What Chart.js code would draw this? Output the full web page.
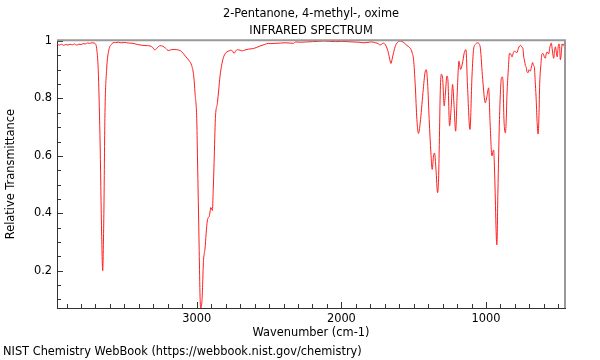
<!DOCTYPE html>
<html>
<head>
<meta charset="utf-8">
<script src="https://cdn.jsdelivr.net/npm/chart.js@4.4.1/dist/chart.umd.min.js"></script>
<style>
  html, body { margin: 0; padding: 0; background: #ffffff; }
  canvas { display: block; }
</style>
</head>
<body>
<canvas id="c" width="600" height="360"></canvas>
<script>
// ---- data ----
const titleLines = ['2-Pentanone, 4-methyl-, oxime', 'INFRARED SPECTRUM'];
const xAxisTitle = 'Wavenumber (cm-1)';
const yAxisTitle = 'Relative Transmittance';
const footerText = 'NIST Chemistry WebBook (https://webbook.nist.gov/chemistry)';

const wavenumbers = [
  3966, 3950, 3935, 3920, 3905, 3890, 3875, 3860, 3845, 3830, 3815, 3800, 3785, 3770, 3755, 3740, 3725, 3710, 3700,
  3692, 3681, 3669, 3657, 3650, 3645, 3641, 3635, 3623, 3607, 3590, 3579, 3560, 3540, 3520, 3500, 3470, 3441, 3410,
  3372, 3340, 3323, 3305, 3289, 3272, 3254, 3235, 3215, 3196, 3175, 3155, 3138, 3115, 3093, 3075, 3050, 3035, 3020,
  3012, 3000, 2995, 2989, 2983, 2977, 2972, 2967, 2963, 2958, 2954, 2948, 2943, 2935, 2927, 2920, 2913, 2908, 2903,
  2897, 2892, 2886, 2880, 2871, 2857, 2848, 2839, 2828, 2816, 2800, 2792, 2775, 2765, 2752, 2742, 2730, 2719, 2700,
  2685, 2666, 2640, 2608, 2585, 2562, 2530, 2505, 2493, 2460, 2420, 2390, 2354, 2330, 2320, 2280, 2240, 2200, 2160,
  2124, 2080, 2040, 2000, 1962, 1920, 1880, 1850, 1824, 1790, 1765, 1754, 1743, 1732, 1720, 1709, 1700, 1690, 1680,
  1674, 1665, 1657, 1650, 1639, 1625, 1605, 1590, 1581, 1565, 1547, 1530, 1519, 1510, 1501, 1489, 1478, 1467, 1455,
  1436, 1420, 1413, 1404, 1393, 1381, 1372, 1363, 1356, 1346, 1335, 1328, 1323, 1316, 1309, 1300, 1289, 1282, 1270,
  1263, 1252, 1242, 1231, 1222, 1210, 1199, 1187, 1176, 1164, 1150, 1139, 1128, 1111, 1097, 1086, 1074, 1058, 1048,
  1039, 1023, 1005, 993, 982, 972, 959, 953, 947, 943, 938, 929, 925, 918, 907, 894, 888, 882, 877, 871, 866, 860,
  855, 846, 838, 829, 820, 812, 804, 795, 786, 776, 767, 760, 751, 745, 740, 733, 728, 721, 717, 709, 703, 694, 686,
  678, 672, 666, 660, 654, 647, 640, 634, 629, 620, 613, 606, 597, 590, 584, 578, 567, 560, 555, 549, 543, 537, 532,
  526, 520, 514, 508, 502, 497, 492, 486, 480, 474, 468, 463, 458, 454
];
const transmittance = [
  0.990, 0.986, 0.989, 0.985, 0.988, 0.986, 0.989, 0.987, 0.990, 0.986, 0.989, 0.988, 0.991, 0.990, 0.993, 0.992, 0.994, 0.993, 0.990,
  0.975, 0.90, 0.67, 0.32, 0.20, 0.30, 0.44, 0.73, 0.90, 0.97, 0.988, 0.994, 0.995, 0.996, 0.994, 0.995, 0.993, 0.992, 0.988,
  0.985, 0.984, 0.983, 0.978, 0.969, 0.977, 0.984, 0.982, 0.975, 0.967, 0.970, 0.971, 0.970, 0.967, 0.957, 0.945, 0.930, 0.915, 0.875,
  0.82, 0.73, 0.60, 0.44, 0.27, 0.11, 0.065, 0.08, 0.10, 0.17, 0.228, 0.26, 0.275, 0.33, 0.373, 0.385, 0.39, 0.405, 0.42,
  0.415, 0.41, 0.48, 0.576, 0.73, 0.785, 0.83, 0.878, 0.915, 0.942, 0.958, 0.962, 0.966, 0.968, 0.965, 0.957, 0.966, 0.970, 0.968,
  0.966, 0.969, 0.972, 0.974, 0.978, 0.983, 0.988, 0.992, 0.991, 0.992, 0.993, 0.994, 0.993, 0.992, 0.997, 0.996, 0.997, 0.998, 0.999,
  1.0, 0.999, 0.998, 0.999, 0.998, 0.997, 0.996, 0.994, 0.995, 0.997, 0.994, 0.993, 0.990, 0.986, 0.990, 0.993, 0.990, 0.982, 0.968,
  0.957, 0.935, 0.922, 0.935, 0.96, 0.985, 0.998, 1.0, 0.999, 0.993, 0.985, 0.978, 0.971, 0.958, 0.936, 0.843, 0.727, 0.678, 0.715,
  0.82, 0.895, 0.90, 0.855, 0.727, 0.61, 0.553, 0.60, 0.61, 0.553, 0.472, 0.52, 0.64, 0.83, 0.884, 0.87, 0.774, 0.81, 0.878,
  0.86, 0.704, 0.76, 0.849, 0.785, 0.686, 0.82, 0.93, 0.901, 0.92, 0.96, 0.97, 0.843, 0.692, 0.878, 0.971, 0.988, 0.994, 0.99,
  0.975, 0.867, 0.785, 0.81, 0.837, 0.716, 0.60, 0.615, 0.62, 0.58, 0.495, 0.32, 0.29, 0.47, 0.727, 0.87, 0.875, 0.855, 0.74, 0.69, 0.68, 0.73,
  0.815, 0.90, 0.957, 0.955, 0.945, 0.958, 0.965, 0.962, 0.96, 0.975, 0.983, 0.985, 0.978, 0.975, 0.948, 0.93, 0.915, 0.907, 0.893, 0.89, 0.90, 0.895, 0.91,
  0.925, 0.915, 0.91, 0.86, 0.806, 0.72, 0.676, 0.74, 0.85, 0.922, 0.955, 0.957, 0.945, 0.94, 0.955, 0.962, 0.955, 0.975, 0.986, 0.993, 0.975, 0.95, 0.94,
  0.97, 0.98, 0.96, 0.945, 0.975, 0.99, 0.985, 0.935, 0.955, 0.99, 0.985, 0.99, 0.98, 0.93
];
const xTickValues = [];
for (let v = 500; v <= 3900; v += 100) xTickValues.push(v);
const xMajorTicks = [1000, 2000, 3000];
const yTickValues = [];
for (let i = 2; i <= 20; i++) yTickValues.push(i / 20);
const yMajorLabels = { '0.2': '0.2', '0.4': '0.4', '0.6': '0.6', '0.8': '0.8', '1': '1' };

const FONT = "'DejaVu Sans', sans-serif";
const FS = 11.4;

const points = wavenumbers.map((w, i) => ({ x: w, y: transmittance[i] }));

const decorPlugin = {
  id: 'decor',
  afterDraw(chart) {
    const ctx = chart.ctx;
    const a = chart.chartArea;
    const xs = chart.scales.x, ys = chart.scales.y;
    ctx.save();
    // inward tick marks
    ctx.strokeStyle = '#333';
    ctx.lineWidth = 1;
    ctx.beginPath();
    xTickValues.forEach(v => {
      const px = Math.round(xs.getPixelForValue(v)) + 0.5;
      const len = xMajorTicks.includes(v) ? 6 : 4;
      ctx.moveTo(px, a.bottom);
      ctx.lineTo(px, a.bottom - len);
    });
    yTickValues.forEach(v => {
      const py = Math.round(ys.getPixelForValue(v)) + 0.5;
      const major = Math.abs(v * 5 - Math.round(v * 5)) < 1e-6;
      const len = major ? 6 : 4;
      ctx.moveTo(a.left, py);
      ctx.lineTo(a.left + len, py);
    });
    ctx.stroke();
    // top & right frame
    ctx.strokeStyle = '#999';
    ctx.lineWidth = 2;
    ctx.beginPath();
    ctx.moveTo(a.left, a.top);
    ctx.lineTo(a.right, a.top);
    ctx.lineTo(a.right, a.bottom);
    ctx.stroke();
    // footer
    ctx.fillStyle = '#000';
    ctx.font = FS + 'px ' + FONT;
    ctx.textAlign = 'left';
    ctx.textBaseline = 'middle';
    ctx.fillText(footerText, 3, 352);
    ctx.restore();
  }
};

new Chart(document.getElementById('c'), {
  type: 'line',
  data: {
    datasets: [{
      data: points,
      borderColor: 'rgb(255,30,30)',
      borderWidth: 1,
      pointRadius: 0,
      fill: false,
      cubicInterpolationMode: 'monotone'
    }]
  },
  options: {
    responsive: false,
    animation: false,
    events: [],
    layout: { padding: { left: 0, right: 35, top: 0, bottom: 20 } },
    plugins: {
      legend: { display: false },
      tooltip: { enabled: false },
      title: {
        display: true,
        text: titleLines,
        fullSize: false,
        color: '#000',
        font: { family: FONT, size: FS, weight: 'normal', lineHeight: 1.5 },
        padding: { top: 5, bottom: 1 }
      }
    },
    scales: {
      x: {
        type: 'linear',
        reverse: true,
        min: 454,
        max: 3966,
        afterBuildTicks: s => { s.ticks = xTickValues.map(v => ({ value: v })); },
        afterFit: s => { s.height = 32; },
        ticks: {
          autoSkip: false,
          maxRotation: 0,
          padding: 4,
          color: '#000',
          font: { family: FONT, size: FS },
          callback: v => (xMajorTicks.includes(v) ? String(v) : '')
        },
        grid: { display: true, drawOnChartArea: false, drawTicks: false, color: '#333' },
        border: { display: true, color: '#333', width: 1 },
        title: {
          display: true,
          text: xAxisTitle,
          color: '#000',
          font: { family: FONT, size: FS },
          padding: { top: 0, bottom: 0 }
        }
      },
      y: {
        type: 'linear',
        min: 0.07,
        max: 1.003,
        afterBuildTicks: s => { s.ticks = yTickValues.map(v => ({ value: v })); },
        afterFit: s => { s.width = 57; },
        ticks: {
          autoSkip: false,
          padding: 5,
          color: '#000',
          font: { family: FONT, size: FS },
          callback: v => {
            const k = String(Math.round(v * 100) / 100);
            return yMajorLabels[k] !== undefined && Math.abs(v * 5 - Math.round(v * 5)) < 1e-6 ? yMajorLabels[k] : '';
          }
        },
        grid: { display: true, drawOnChartArea: false, drawTicks: false, color: '#333' },
        border: { display: true, color: '#333', width: 1 },
        title: {
          display: true,
          text: yAxisTitle,
          color: '#000',
          font: { family: FONT, size: FS },
          padding: { top: 4, bottom: 0 }
        }
      }
    }
  },
  plugins: [decorPlugin]
});
</script>
</body>
</html>
